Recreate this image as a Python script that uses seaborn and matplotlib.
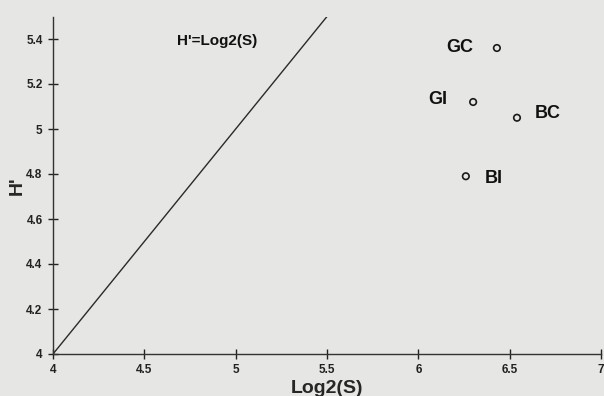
import matplotlib
matplotlib.use("Agg")
import matplotlib.pyplot as plt
import seaborn as sns
import pandas as pd
import numpy as np

# Data
stations = ["GC", "GI", "BC", "BI"]
log2_s = [6.43, 6.30, 6.54, 6.26]
h_prime = [5.36, 5.12, 5.05, 4.79]
ref_x = [4.0, 5.5]
ref_y = [4.0, 5.5]
x_ticks = [4, 4.5, 5, 5.5, 6, 6.5, 7]
x_tick_labels = ["4", "4.5", "5", "5.5", "6", "6.5", "7"]
y_ticks = [4, 4.2, 4.4, 4.6, 4.8, 5, 5.2, 5.4]
y_tick_labels = ["4", "4.2", "4.4", "4.6", "4.8", "5", "5.2", "5.4"]

sns.set_style("white")
plt.rcParams["font.family"] = ["Liberation Sans", "DejaVu Sans"]

bg = "#e6e6e4"
fig = plt.figure(figsize=(6.04, 3.96), dpi=100, facecolor=bg)
ax = fig.add_axes([53/604, 1 - 354/396, (601 - 53)/604, (354 - 16.5)/396])
ax.set_facecolor(bg)

df = pd.DataFrame({"S": log2_s, "H": h_prime, "station": stations})
ref = pd.DataFrame({"x": ref_x, "y": ref_y})

sns.lineplot(data=ref, x="x", y="y", ax=ax, color="#2a2a2a", linewidth=1.0)
sns.scatterplot(data=df, x="S", y="H", ax=ax, marker="o", s=22,
                facecolor="none", edgecolor="#1a1a1a", linewidth=1.2)

offsets = {"GC": (-0.13, 0.0, "right"), "GI": (-0.14, 0.01, "right"),
           "BC": (0.10, 0.02, "left"), "BI": (0.105, -0.01, "left")}
for st, xv, yv in zip(stations, log2_s, h_prime):
    dx, dy, ha = offsets[st]
    ax.text(xv + dx, yv + dy, st, ha=ha, va="center", fontsize=13,
            fontweight="bold", color="#111111")

ax.text(4.90, 5.39, "H'=Log2(S)", ha="center", va="center", fontsize=11,
        fontweight="bold", color="#111111")

ax.set_xlim(4, 7)
ax.set_ylim(4, 5.5)
ax.set_xticks(x_ticks)
ax.set_xticklabels(x_tick_labels)
ax.set_yticks(y_ticks)
ax.set_yticklabels(y_tick_labels)
ax.tick_params(axis="both", direction="inout", length=7, width=1.0,
               labelsize=8.5, colors="#222222", bottom=True, left=True)
ax.tick_params(axis="x", pad=4)
ax.tick_params(axis="y", pad=4)
for lbl in ax.get_xticklabels() + ax.get_yticklabels():
    lbl.set_fontweight("bold")

ax.set_xlabel("Log2(S)", fontsize=14, fontweight="bold", labelpad=2.5)
ax.set_ylabel("H'", fontsize=14, fontweight="bold", labelpad=0)

for side in ["top", "right"]:
    ax.spines[side].set_visible(False)
for side in ["left", "bottom"]:
    ax.spines[side].set_color("#333333")
    ax.spines[side].set_linewidth(1.0)

fig.savefig("out.png", dpi=100, facecolor=bg)
